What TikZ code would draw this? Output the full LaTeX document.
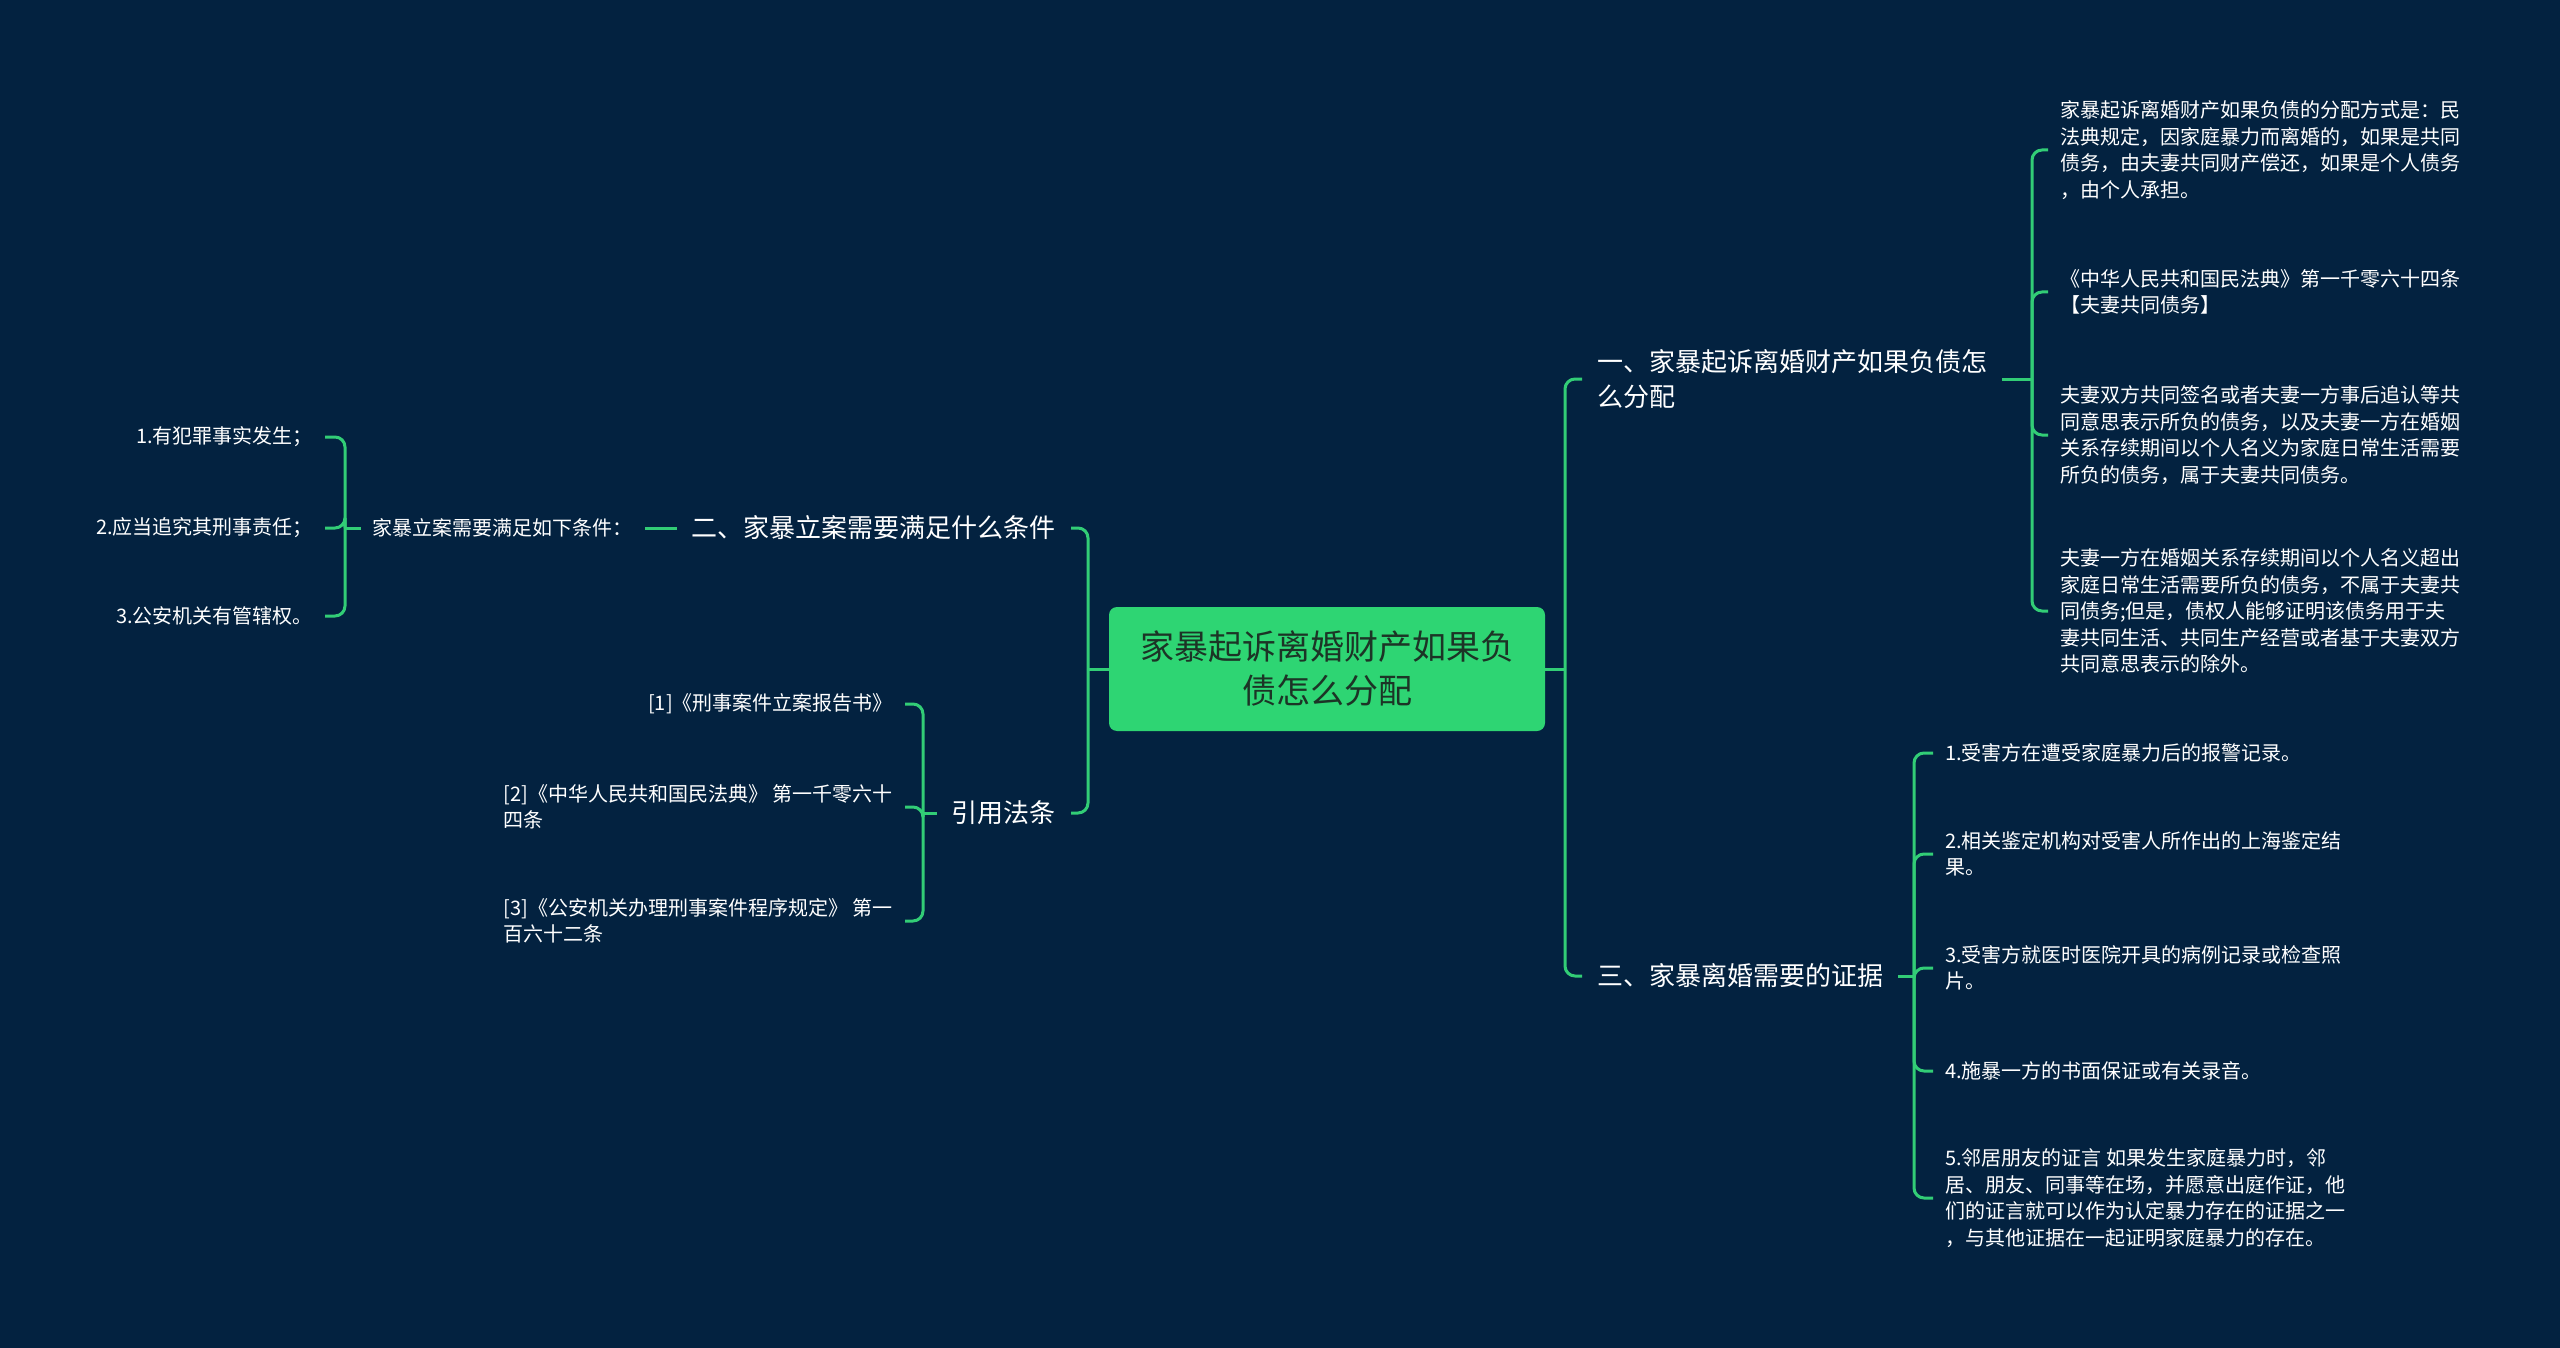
\documentclass[tikz,border=0pt]{standalone}
\usepackage{fontspec}
\setmainfont{Noto Sans CJK SC}
\definecolor{bgnavy}{RGB}{3,34,64}
\definecolor{linegreen}{RGB}{50,205,118}
\definecolor{rootgreen}{RGB}{46,213,115}
\definecolor{roottext}{RGB}{28,52,38}
\begin{document}
\begin{tikzpicture}[x=1pt,y=-1pt,
    link/.style={draw=linegreen,line width=3pt,rounded corners=10pt},
    rootbox/.style={fill=rootgreen,text=roottext,rounded corners=8pt,minimum width=436pt,minimum height=124pt,align=center,font=\fontsize{34}{44}\selectfont},
    topic/.style={text=white,inner xsep=15pt,inner ysep=2pt,align=left,font=\fontsize{26}{35}\selectfont},
    leaf/.style={text=white,inner xsep=12pt,inner ysep=2pt,align=left,font=\fontsize{20}{26.5}\selectfont}]
    \fill[bgnavy] (0,0) rectangle (2560,1348);
    \useasboundingbox (0,0) rectangle (2560,1348);

    % centre
    \node[rootbox] (root) at (1327,669) {家暴起诉离婚财产如果负\\债怎么分配};

    % right side
    \coordinate (rt) at (1565,669);
    \node[topic,anchor=west] (b1) at (1582,379) {一、家暴起诉离婚财产如果负债怎\\么分配};
    \node[topic,anchor=west] (b3) at (1582,976) {三、家暴离婚需要的证据};
    \draw[link] (root.east) -- (rt);
    \draw[link] (rt) |- (b1.west);
    \draw[link] (rt) |- (b3.west);

    % branch one
    \coordinate (b1t) at (2032,379);
    \node[leaf,anchor=west] (b1a) at (2048,150) {家暴起诉离婚财产如果负债的分配方式是：民\\法典规定，因家庭暴力而离婚的，如果是共同\\债务，由夫妻共同财产偿还，如果是个人债务\\，由个人承担。};
    \node[leaf,anchor=west] (b1b) at (2048,292) {《中华人民共和国民法典》第一千零六十四条\\【夫妻共同债务】};
    \node[leaf,anchor=west] (b1c) at (2048,435) {夫妻双方共同签名或者夫妻一方事后追认等共\\同意思表示所负的债务，以及夫妻一方在婚姻\\关系存续期间以个人名义为家庭日常生活需要\\所负的债务，属于夫妻共同债务。};
    \node[leaf,anchor=west] (b1d) at (2048,611) {夫妻一方在婚姻关系存续期间以个人名义超出\\家庭日常生活需要所负的债务，不属于夫妻共\\同债务;但是，债权人能够证明该债务用于夫\\妻共同生活、共同生产经营或者基于夫妻双方\\共同意思表示的除外。};
    \draw[link] (b1.east) -- (b1t);
    \draw[link] (b1t) |- (b1a.west);
    \draw[link] (b1t) |- (b1b.west);
    \draw[link] (b1t) |- (b1c.west);
    \draw[link] (b1t) |- (b1d.west);

    % branch three
    \coordinate (b3t) at (1914,976);
    \node[leaf,anchor=west] (b3a) at (1933,753) {1.受害方在遭受家庭暴力后的报警记录。};
    \node[leaf,anchor=west] (b3b) at (1933,854) {2.相关鉴定机构对受害人所作出的上海鉴定结\\果。};
    \node[leaf,anchor=west] (b3c) at (1933,968) {3.受害方就医时医院开具的病例记录或检查照\\片。};
    \node[leaf,anchor=west] (b3d) at (1933,1071) {4.施暴一方的书面保证或有关录音。};
    \node[leaf,anchor=west] (b3e) at (1933,1198) {5.邻居朋友的证言 如果发生家庭暴力时，邻\\居、朋友、同事等在场，并愿意出庭作证，他\\们的证言就可以作为认定暴力存在的证据之一\\，与其他证据在一起证明家庭暴力的存在。};
    \draw[link] (b3.east) -- (b3t);
    \draw[link] (b3t) |- (b3a.west);
    \draw[link] (b3t) |- (b3b.west);
    \draw[link] (b3t) |- (b3c.west);
    \draw[link] (b3t) |- (b3d.west);
    \draw[link] (b3t) |- (b3e.west);

    % left side
    \coordinate (lt) at (1088,669);
    \node[topic,anchor=east] (b2) at (1071,528) {二、家暴立案需要满足什么条件};
    \node[topic,anchor=east] (b4) at (1071,813) {引用法条};
    \draw[link] (root.west) -- (lt);
    \draw[link] (lt) |- (b2.east);
    \draw[link] (lt) |- (b4.east);

    % branch two
    \node[leaf,anchor=east] (b2a) at (645,528) {家暴立案需要满足如下条件：};
    \draw[link] (b2.west) -- (b2a.east);
    \coordinate (b2t) at (345,528);
    \node[leaf,anchor=east] (b2x) at (325,437) {1.有犯罪事实发生；};
    \node[leaf,anchor=east] (b2y) at (325,528) {2.应当追究其刑事责任；};
    \node[leaf,anchor=east] (b2z) at (325,616) {3.公安机关有管辖权。};
    \draw[link] (b2a.west) -- (b2t);
    \draw[link] (b2t) |- (b2x.east);
    \draw[link] (b2t) |- (b2y.east);
    \draw[link] (b2t) |- (b2z.east);

    % cited laws
    \coordinate (b4t) at (923,813);
    \node[leaf,anchor=east] (b4a) at (905,704) {[1]《刑事案件立案报告书》};
    \node[leaf,anchor=east] (b4b) at (905,807) {[2]《中华人民共和国民法典》 第一千零六十\\四条};
    \node[leaf,anchor=east] (b4c) at (905,921) {[3]《公安机关办理刑事案件程序规定》 第一\\百六十二条};
    \draw[link] (b4.west) -- (b4t);
    \draw[link] (b4t) |- (b4a.east);
    \draw[link] (b4t) |- (b4b.east);
    \draw[link] (b4t) |- (b4c.east);
\end{tikzpicture}
\end{document}
